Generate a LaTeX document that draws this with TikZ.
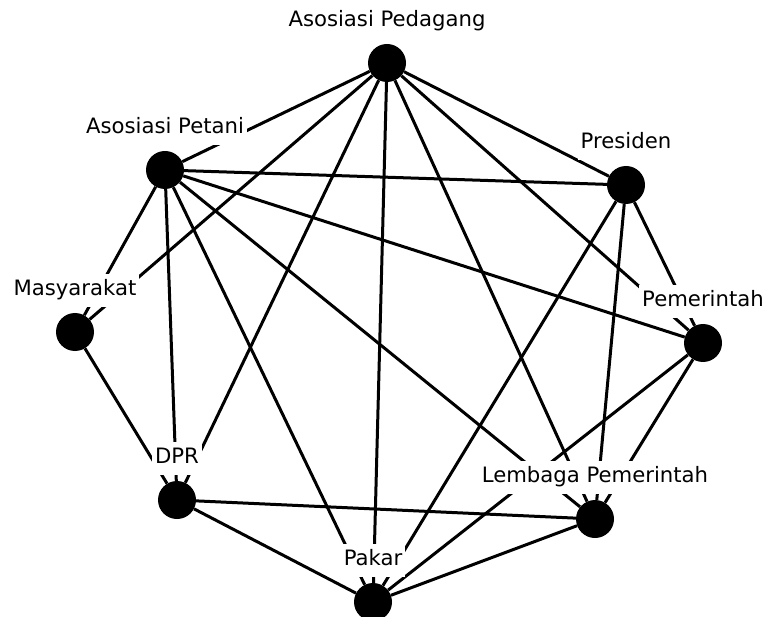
\documentclass[tikz,border=0pt]{standalone}
\usepackage{fontspec}
\setmainfont{DejaVu Sans}
\usetikzlibrary{positioning}

\tikzset{
  actor/.style={circle, fill=black, inner sep=0pt, minimum size=38pt},
  tag/.style={fill=white, font=\fontsize{21.2}{22}\selectfont,
    inner xsep=3pt, inner ysep=7pt, text height=15pt, text depth=4pt},
  tie/.style={line width=3pt}
}

\begin{document}
\begin{tikzpicture}[x=1pt, y=-1pt]
    \useasboundingbox (0,0) rectangle (765,617);
    % actors
    \node[actor] (pdg) at (387,63) {};
    \node[actor] (ptn) at (165,170) {};
    \node[actor] (pre) at (626,185) {};
    \node[actor] (mas) at (75,332) {};
    \node[actor] (pem) at (703,343) {};
    \node[actor] (dpr) at (177,500) {};
    \node[actor] (lem) at (595,519) {};
    \node[actor] (pak) at (373,602) {};
    % ties between the actors
    \foreach \a/\b in {pdg/ptn, pdg/mas, pdg/dpr, pdg/pak, pdg/lem, pdg/pem, pdg/pre,
                       ptn/pre, ptn/pem, ptn/lem, ptn/pak, ptn/dpr, ptn/mas,
                       pre/pak, pre/lem, pre/pem, pem/lem, pem/pak,
                       mas/dpr, dpr/lem, dpr/pak, lem/pak}
    {
      \draw[tie] (\a) -- (\b);
    }
    % names, white boxes over the ties
    \node[tag, above=6pt of pdg] (pdg-name) {Asosiasi Pedagang};
    \node[tag, above=6pt of ptn] (ptn-name) {Asosiasi Petani};
    \node[tag, above=6pt of pre] (pre-name) {Presiden};
    \node[tag, above=6pt of mas] (mas-name) {Masyarakat};
    \node[tag, above=6pt of pem] (pem-name) {Pemerintah};
    \node[tag, above=6pt of dpr] (dpr-name) {DPR};
    \node[tag, above=6pt of lem] (lem-name) {Lembaga Pemerintah};
    \node[tag, above=6pt of pak] (pak-name) {Pakar};
\end{tikzpicture}
\end{document}
